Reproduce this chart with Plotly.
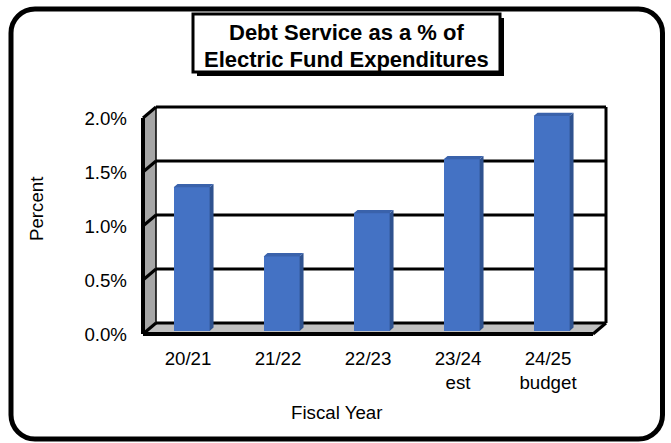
import plotly.graph_objects as go

# ---- data -------------------------------------------------------------
years = ["20/21", "21/22", "22/23", "23/24<br>est", "24/25<br>budget"]
debt_pct = [1.33, 0.69, 1.09, 1.59, 1.99]
y_ticks = [0.0, 0.5, 1.0, 1.5, 2.0]
y_tick_text = [f"{v:.1f}%" for v in y_ticks]

# ---- page / box geometry (pixels) --------------------------------------
W, H = 671, 443
X_PX = 90.0            # pixels per category
Y_PX = 108.0           # pixels per 1 %
FRONT_LEFT, FRONT_BOTTOM = 143, 334
DEPTH_X, DEPTH_Y = 13.0, 11.0   # receding offset of the back wall
PAD = 10

n = len(years)
x0, x1 = -0.5, n - 0.5
ytop = y_ticks[-1]
DX = DEPTH_X / X_PX
DY = DEPTH_Y / Y_PX

dom_left = FRONT_LEFT - PAD
dom_bottom = FRONT_BOTTOM + PAD
dom_right = FRONT_LEFT + (x1 - x0) * X_PX + DEPTH_X + PAD
dom_top = FRONT_BOTTOM - ytop * Y_PX - DEPTH_Y - PAD

x_range = [x0 - PAD / X_PX, x0 + (dom_right - FRONT_LEFT) / X_PX]
y_range = [-PAD / Y_PX, (FRONT_BOTTOM - dom_top) / Y_PX]

def px(x):
    return (x - dom_left) / (dom_right - dom_left)

def py(y):
    return (dom_bottom - y) / (dom_bottom - dom_top)

FONT = "Liberation Sans, Arial, sans-serif"
BLACK = "#000000"

shapes = []

def poly(pts, fill):
    d = "M " + " L ".join(f"{a},{b}" for a, b in pts) + " Z"
    shapes.append(dict(type="path", xref="x", yref="y", path=d,
                       fillcolor=fill, line=dict(width=0), layer="below"))

def seg(xa, ya, xb, yb, w=3):
    shapes.append(dict(type="line", xref="x", yref="y", x0=xa, y0=ya, x1=xb, y1=yb,
                       line=dict(color=BLACK, width=w), layer="below"))

# back wall, side wall and floor
poly([(x0 + DX, DY), (x1 + DX, DY), (x1 + DX, ytop + DY), (x0 + DX, ytop + DY)], "#ffffff")
poly([(x0, 0), (x0 + DX, DY), (x0 + DX, ytop + DY), (x0, ytop)], "#a6a6a6")
poly([(x0, 0), (x1, 0), (x1 + DX, DY), (x0 + DX, DY)], "#c0c0c0")

# gridlines on the back wall, continued across the side wall
for v in y_ticks:
    seg(x0 + DX, v + DY, x1 + DX, v + DY, 3)
    seg(x0, v, x0 + DX, v + DY, 3)

# box edges
seg(x0 + DX, DY, x0 + DX, ytop + DY, 1.5)
seg(x1 + DX, DY, x1 + DX, ytop + DY, 3)
seg(x1, 0, x1 + DX, DY, 3)
seg(x0, 0, x1, 0, 4)
seg(x0, 0, x0, ytop, 4)

# rounded outer frame
def rounded(l, t, r, b, rad):
    k = 0.5523 * rad
    pts = [
        f"M {px(l + rad)},{py(t)}",
        f"L {px(r - rad)},{py(t)}",
        f"C {px(r - rad + k)},{py(t)} {px(r)},{py(t + rad - k)} {px(r)},{py(t + rad)}",
        f"L {px(r)},{py(b - rad)}",
        f"C {px(r)},{py(b - rad + k)} {px(r - rad + k)},{py(b)} {px(r - rad)},{py(b)}",
        f"L {px(l + rad)},{py(b)}",
        f"C {px(l + rad - k)},{py(b)} {px(l)},{py(b - rad + k)} {px(l)},{py(b - rad)}",
        f"L {px(l)},{py(t + rad)}",
        f"C {px(l)},{py(t + rad - k)} {px(l + rad - k)},{py(t)} {px(l + rad)},{py(t)}",
        "Z",
    ]
    return " ".join(pts)

shapes.append(dict(type="path", xref="paper", yref="paper",
                   path=rounded(11, 9, 662.5, 439, 24),
                   line=dict(color=BLACK, width=5), layer="above"))

# title box with drop shadow
shapes.append(dict(type="rect", xref="paper", yref="paper",
                   x0=px(197), y0=py(18), x1=px(504), y1=py(76),
                   fillcolor=BLACK, line=dict(width=0), layer="above"))
shapes.append(dict(type="rect", xref="paper", yref="paper",
                   x0=px(193), y0=py(14), x1=px(500), y1=py(72),
                   fillcolor="#ffffff", line=dict(color=BLACK, width=3), layer="above"))

# ---- bars ---------------------------------------------------------------
BAR_W = 0.4
F_DEPTH = 0.28     # depth position of the bar front face
B_DEPTH = 0.30     # bar depth as a fraction of the box depth
base = F_DEPTH * DY
shift = F_DEPTH * DX
bdx, bdy = B_DEPTH * DX, B_DEPTH * DY

fig = go.Figure()
fig.add_trace(go.Bar(
    x=list(range(n)), y=debt_pct, base=base, width=BAR_W,
    offset=shift - BAR_W / 2,
    marker=dict(color="#4472c4", line=dict(width=0)),
    hoverinfo="skip", showlegend=False,
))

side_x, side_y, top_x, top_y = [], [], [], []
for i, v in enumerate(debt_pct):
    left = i + shift - BAR_W / 2
    right = i + shift + BAR_W / 2
    top = base + v
    side_x += [right, right + bdx, right + bdx, right, right, None]
    side_y += [base, base + bdy, top + bdy, top, base, None]
    top_x += [left, right, right + bdx, left + bdx, left, None]
    top_y += [top, top, top + bdy, top + bdy, top, None]

fig.add_trace(go.Scatter(x=side_x, y=side_y, mode="lines", fill="toself",
                         fillcolor="#2f528f", line=dict(width=0),
                         hoverinfo="skip", showlegend=False))
fig.add_trace(go.Scatter(x=top_x, y=top_y, mode="lines", fill="toself",
                         fillcolor="#3a62ab", line=dict(width=0),
                         hoverinfo="skip", showlegend=False))

annotations = [
    dict(text="<b>Debt Service as a % of</b>", xref="paper", yref="paper",
         x=px(346.5), y=py(32), xanchor="center", yanchor="middle", showarrow=False,
         font=dict(family=FONT, size=22, color=BLACK)),
    dict(text="<b>Electric Fund Expenditures</b>", xref="paper", yref="paper",
         x=px(346.5), y=py(59), xanchor="center", yanchor="middle", showarrow=False,
         font=dict(family=FONT, size=22, color=BLACK)),
    dict(text="Percent", xref="paper", yref="paper", x=px(36), y=py(209),
         xanchor="center", yanchor="middle", textangle=-90, showarrow=False,
         font=dict(family=FONT, size=18.7, color=BLACK)),
    dict(text="Fiscal Year", xref="paper", yref="paper", x=px(336), y=py(412),
         xanchor="center", yanchor="middle", showarrow=False,
         font=dict(family=FONT, size=18.7, color=BLACK)),
]

fig.update_layout(
    width=W, height=H, autosize=False,
    margin=dict(l=dom_left, r=W - dom_right, t=dom_top, b=H - dom_bottom, pad=0),
    paper_bgcolor="#ffffff", plot_bgcolor="rgba(0,0,0,0)",
    shapes=shapes, annotations=annotations, bargap=0,
    xaxis=dict(range=x_range, tickvals=list(range(n)), ticktext=years,
               showgrid=False, zeroline=False, showline=False, ticks="",
               tickfont=dict(family=FONT, size=18.7, color=BLACK),
               ticklabelstandoff=1, fixedrange=True),
    yaxis=dict(range=y_range, tickvals=y_ticks, ticktext=y_tick_text,
               showgrid=False, zeroline=False, showline=False, ticks="",
               tickfont=dict(family=FONT, size=18.7, color=BLACK),
               ticklabelstandoff=5, fixedrange=True),
)

fig.write_html("out.html", config={"displayModeBar": False})
